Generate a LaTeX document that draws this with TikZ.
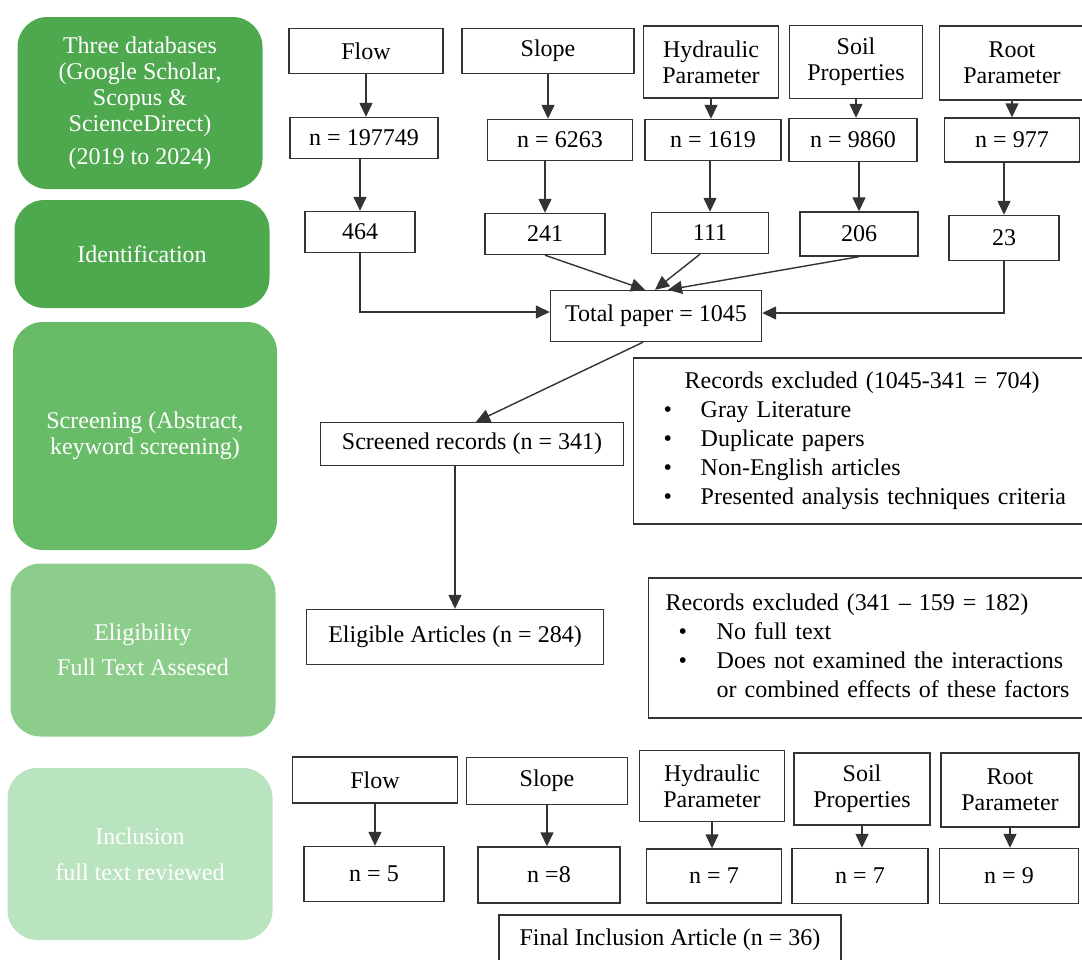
\documentclass[tikz,border=0pt]{standalone}
\usepackage{fontspec}
\setmainfont{Liberation Serif}
\usetikzlibrary{arrows.meta}
\definecolor{phaseA}{RGB}{78,168,78}
\definecolor{phaseB}{RGB}{104,188,104}
\definecolor{phaseC}{RGB}{140,205,140}
\definecolor{phaseD}{RGB}{186,228,191}
\tikzset{
  bw/.style={minimum width=#1*0.5pt},
  bh/.style={minimum height=#1*0.5pt},
  box/.style={draw=black!80, line width=.7pt, align=center, inner sep=0pt},
  phase/.style={rounded corners=15pt, text=white, align=center, inner sep=0pt},
  excl/.style={draw=black!80, line width=.7pt, anchor=west, align=left,
    font=\fontsize{12}{14.5}\selectfont},
  arr/.style={draw=black!80, line width=.7pt, -{Triangle[width=6.5pt,length=7pt]}}
}
\begin{document}
\begin{tikzpicture}[x=0.5pt, y=-0.5pt, font=\fontsize{12}{13}\selectfont]
  \useasboundingbox[fill=white] (0,0) rectangle (1082,959);
  % phases on the left
  \node[phase, fill=phaseA, bw=245, bh=172] (dbphase) at (140,103)
    {Three databases\\(Google Scholar,\\Scopus \&\\ScienceDirect)\\[3.5pt](2019 to 2024)};
  \node[phase, fill=phaseA, bw=255, bh=108] (idphase) at (142,254) {Identification};
  \node[phase, fill=phaseB, bw=264, bh=228] (scrphase) at (145,436) {Screening (Abstract,\\keyword screening)};
  \node[phase, fill=phaseC, bw=265, bh=173] (eligphase) at (143,650) {Eligibility\\[4.5pt]Full Text Assesed};
  \node[phase, fill=phaseD, bw=265, bh=172] (inclphase) at (140,854) {Inclusion\\[5pt]full text reviewed};
  % search terms
  \node[box, bw=154, bh=45] (flowA) at (366,51) {Flow};
  \node[box, bw=172, bh=45] (slopeA) at (548,51) {Slope};
  \node[box, bw=135, bh=72] (hydA) at (711,62) {Hydraulic\\Parameter};
  \node[box, bw=133, bh=73] (soilA) at (856,62) {Soil\\Properties};
  \node[box, bw=145, bh=74] (rootA) at (1012,63) {Root\\Parameter};
  % hits per term
  \node[box, bw=148, bh=41] (flowN) at (364,138) {n = 197749};
  \node[box, bw=145, bh=41] (slopeN) at (560,140) {n = 6263};
  \node[box, bw=136, bh=41] (hydN) at (713,140) {n = 1619};
  \node[box, bw=128, bh=43] (soilN) at (853,140) {n = 9860};
  \node[box, bw=135, bh=44] (rootN) at (1012,140) {n = 977};
  % identified
  \node[box, bw=110, bh=41] (flowC) at (360,232) {464};
  \node[box, bw=120, bh=41] (slopeC) at (545,234) {241};
  \node[box, bw=117, bh=41] (hydC) at (710,233) {111};
  \node[box, bw=118, bh=44] (soilC) at (859,234) {206};
  \node[box, bw=110, bh=45] (rootC) at (1004,238) {23};
  \node[box, bw=211, bh=51] (total) at (656,316) {Total paper = 1045};
  % screening and eligibility
  \node[box, bw=303, bh=43] (screened) at (472,444) {Screened records (n = 341)};
  \node[box, bw=297, bh=55] (eligible) at (455,637) {Eligible Articles (n = 284)};
  \node[excl, bw=460, bh=166, text width=220pt, inner xsep=15pt] (exclA) at (633,441) {%
    \begin{tabular}{@{}p{18.5pt}@{}l@{}}
      \multicolumn{2}{@{\hspace{10.5pt}}l@{}}{Records excluded (1045-341 = 704)}\\
      \textbullet & Gray Literature\\
      \textbullet & Duplicate papers\\
      \textbullet & Non-English articles\\
      \textbullet & Presented analysis techniques criteria
    \end{tabular}};
  \node[excl, bw=450, bh=140, text width=220pt, inner xsep=8.5pt] (exclB) at (648,648) {%
    \begin{tabular}{@{\hspace{6.5pt}}p{19pt}@{}l@{}}
      \multicolumn{2}{@{}l@{}}{Records excluded (341 – 159 = 182)}\\
      \textbullet & No full text\\
      \textbullet & Does not examined the interactions\\
                  & or combined effects of these factors
    \end{tabular}};
  % included
  \node[box, bw=165, bh=46] (flowB) at (375,780) {Flow};
  \node[box, bw=161, bh=47] (slopeB) at (547,781) {Slope};
  \node[box, bw=145, bh=71] (hydB) at (712,786) {Hydraulic\\Parameter};
  \node[box, bw=136, bh=72] (soilB) at (862,789) {Soil\\Properties};
  \node[box, bw=138, bh=74] (rootB) at (1010,790) {Root\\Parameter};
  \node[box, bw=140, bh=55] (flowI) at (374,874) {n = 5};
  \node[box, bw=142, bh=56] (slopeI) at (549,875) {n =8};
  \node[box, bw=135, bh=54] (hydI) at (714,876) {n = 7};
  \node[box, bw=136, bh=55] (soilI) at (860,876) {n = 7};
  \node[box, bw=139, bh=55] (rootI) at (1009,876) {n = 9};
  \node[box, bw=342, bh=50] (final) at (670,940) {Final Inclusion Article (n = 36)};
  % arrows
  \foreach \a/\b in {flowA/flowN, slopeA/slopeN, hydA/hydN, soilA/soilN, rootA/rootN,
                     flowB/flowI, slopeB/slopeI, hydB/hydI, soilB/soilI, rootB/rootI}
    \draw[arr] (\a.south) -- (\a.south |- \b.north);
  \foreach \a/\b in {flowN/flowC, slopeN/slopeC, hydN/hydC, soilN/soilC, rootN/rootC}
    \draw[arr] (\b.north |- \a.south) -- (\b.north);
  \draw[arr] (flowC.south) |- ([yshift=2pt]total.west);
  \draw[arr] (rootC.south) |- ([yshift=1.5pt]total.east);
  \draw[arr] (slopeC.south) -- ([xshift=-5.5pt]total.north);
  \draw[arr] ([xshift=-5pt]hydC.south) -- ([xshift=-0.5pt]total.north);
  \draw[arr] (soilC.south) -- ([xshift=6pt]total.north);
  \draw[arr] ([xshift=-6.5pt]total.south) -- ([xshift=2pt]screened.north);
  \draw[arr] (eligible.north |- screened.south) -- (eligible.north);
\end{tikzpicture}
\end{document}
